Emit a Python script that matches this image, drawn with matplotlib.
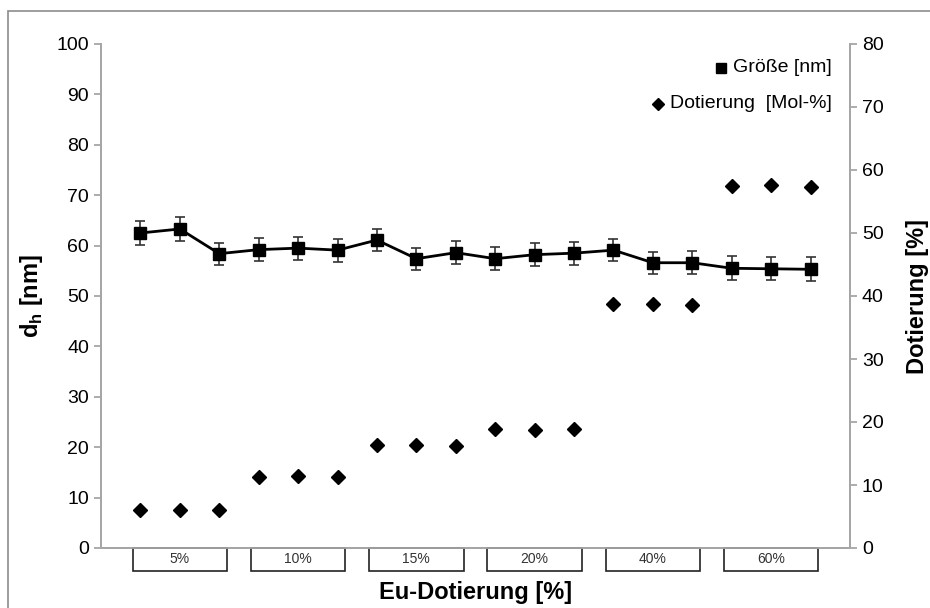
import matplotlib
matplotlib.use("Agg")
import matplotlib.pyplot as plt
import numpy as np
from matplotlib.patches import Rectangle
from matplotlib.lines import Line2D

plt.rcParams["font.family"] = ["Liberation Sans", "DejaVu Sans"]

# Hydrodynamischer Durchmesser je Probe (3 Proben pro Dotierungsstufe)
groups = ["5%", "10%", "15%", "20%", "40%", "60%"]
size_nm = [62.5, 63.3, 58.4, 59.2, 59.5, 59.1,
           61.1, 57.4, 58.6, 57.4, 58.2, 58.5,
           59.1, 56.6, 56.6, 55.5, 55.4, 55.3]
size_err = [2.3, 2.3, 2.2, 2.3, 2.3, 2.3,
            2.2, 2.2, 2.3, 2.3, 2.3, 2.3,
            2.2, 2.2, 2.3, 2.4, 2.3, 2.4]
# gemessener Eu-Gehalt in Mol-%
doping = [6.1, 6.1, 6.1, 11.3, 11.5, 11.2,
          16.3, 16.3, 16.2, 18.9, 18.8, 18.9,
          38.7, 38.7, 38.6, 57.4, 57.6, 57.3]

axis_gray = "#a6a6a6"

fig = plt.figure(figsize=(9.3, 6.08), dpi=100)
ax = fig.add_axes([101 / 930, 1 - 548 / 608, 749 / 930, 504 / 608])
ax2 = ax.twinx()

x = np.arange(1, len(size_nm) + 1)

ax.errorbar(x, size_nm, yerr=size_err, color="black", lw=2, marker="s",
            markersize=8.5, ecolor="#333333", elinewidth=1.2, capsize=3.5,
            capthick=1.2, zorder=3)
ax2.plot(x, doping, linestyle="none", marker="D", markersize=7,
         color="black", zorder=3)

ax.set_xlim(0, len(size_nm) + 1)
ax.set_ylim(0, 100)
ax2.set_ylim(0, 80)
ax.set_yticks(np.arange(0, 101, 10))
ax2.set_yticks(np.arange(0, 81, 10))
ax.set_xticks([])

for a in (ax, ax2):
    for s in a.spines.values():
        s.set_color(axis_gray)
        s.set_linewidth(1.3)
    a.spines["top"].set_visible(False)
    a.tick_params(axis="y", colors=axis_gray, labelcolor="black",
                  labelsize=14, length=5, width=1.3, direction="out")

ax.set_ylabel("d$_\\mathregular{h}$ [nm]", fontsize=17, fontweight="bold",
              labelpad=8)
ax2.set_ylabel("Dotierung [%]", fontsize=17, fontweight="bold", labelpad=16)
ax.set_xlabel("Eu-Dotierung [%]", fontsize=17, fontweight="bold", va="center")
ax.xaxis.set_label_coords(0.5, (548 - 593) / 504)

# Kategorienkästen unter der x-Achse
trans = ax.get_xaxis_transform()
for i, g in enumerate(groups):
    cx = 3 * i + 2
    ax.add_patch(Rectangle((cx - 1.2, -0.0456), 2.4, 0.0456, transform=trans,
                           facecolor="white", edgecolor="#222222", lw=1.2,
                           clip_on=False, zorder=4))
    ax.text(cx, -0.0228, g, transform=trans, ha="center", va="center",
            fontsize=10, color="#333333", zorder=5)

# Legende rechtsbündig oben
fig.canvas.draw()
renderer = fig.canvas.get_renderer()
legend_items = [("Größe [nm]", "s", 7, 1 - 68 / 608),
                ("Dotierung  [Mol-%]", "D", 6, 1 - 104 / 608)]
for label, m, ms, fy in legend_items:
    t = fig.text(832 / 930, fy, label, ha="right", va="center", fontsize=14)
    bb = t.get_window_extent(renderer)
    mx = (bb.x0 - 12) / fig.bbox.width
    fig.add_artist(Line2D([mx], [fy], marker=m, markersize=ms, color="black",
                          linestyle="none", transform=fig.transFigure))

# Rahmen um das Diagramm
fig.add_artist(Rectangle((8 / 930, -0.1), 1.2, 1.1 - 11 / 608,
                         transform=fig.transFigure, fill=False,
                         edgecolor="#8c8c8c", lw=1.2))

fig.savefig("out.png", dpi=100)
